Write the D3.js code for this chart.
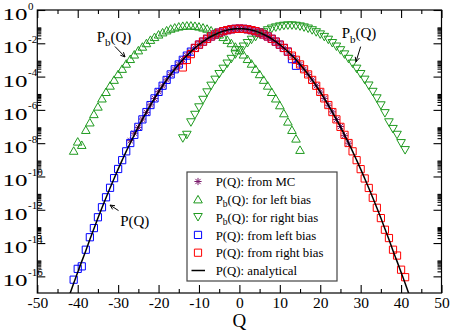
<!DOCTYPE html>
<html>
<head>
<meta charset="utf-8">
<script src="https://cdn.jsdelivr.net/npm/d3@7"></script>
<style>
body{margin:0;background:#fff;}
</style>
</head>
<body>
<script>
var w=450;
var h=331;
var serif = "'Liberation Serif', 'DejaVu Serif', 'Times New Roman', serif";

// log10 P(Q)
var qLine = d3.range(-42, 43);
var logLine = [-17.10,-16.42,-15.75,-15.10,-14.46,-13.79,-13.14,-12.50,-11.88,-11.28,
  -10.69,-10.12,-9.56,-9.02,-8.49,-7.99,-7.50,-7.02,-6.57,-6.13,
  -5.71,-5.31,-4.92,-4.55,-4.20,-3.87,-3.56,-3.27,-2.99,-2.74,
  -2.50,-2.28,-2.08,-1.90,-1.73,-1.59,-1.47,-1.36,-1.27,-1.21,
  -1.16,-1.13,-1.12,-1.13,-1.16,-1.21,-1.27,-1.36,-1.47,-1.59,
  -1.73,-1.90,-2.08,-2.28,-2.50,-2.74,-2.99,-3.27,-3.56,-3.87,
  -4.20,-4.55,-4.92,-5.31,-5.71,-6.13,-6.57,-7.02,-7.50,-7.99,
  -8.49,-9.02,-9.56,-10.12,-10.69,-11.28,-11.88,-12.50,-13.14,-13.79,
  -14.46,-15.10,-15.75,-16.42,-17.10];

var qMC = d3.range(-27, 28);
var logMC = [-7.85,-7.40,-7.05,-6.55,-6.15,-5.70,-5.32,-4.91,-4.56,-4.20,
  -3.87,-3.56,-3.27,-2.99,-2.74,-2.50,-2.28,-2.08,-1.90,-1.73,
  -1.59,-1.47,-1.36,-1.27,-1.21,-1.16,-1.13,-1.12,-1.13,-1.16,
  -1.21,-1.27,-1.36,-1.47,-1.59,-1.73,-1.90,-2.08,-2.28,-2.50,
  -2.74,-2.99,-3.27,-3.56,-3.87,-4.20,-4.55,-4.93,-5.31,-5.72,
  -6.12,-6.58,-7.00,-7.55,-8.00];

var qLeftBias = d3.range(-41, 16);
var logLeftBias = [-8.45,-7.90,-8.10,-7.20,-6.75,-6.25,-5.80,-5.31,-4.92,-4.54,
  -4.19,-3.85,-3.53,-3.22,-2.94,-2.67,-2.42,-2.20,-1.99,-1.79,
  -1.62,-1.47,-1.34,-1.22,-1.12,-1.05,-0.99,-0.95,-0.93,-0.93,
  -0.95,-0.99,-1.05,-1.12,-1.22,-1.34,-1.47,-1.62,-1.79,-1.99,
  -2.20,-2.42,-2.67,-2.94,-3.22,-3.53,-3.85,-4.19,-4.54,-4.92,
  -5.31,-5.72,-6.20,-6.70,-7.20,-7.72,-8.40];

var qRightBias = d3.range(-14, 42);
var logRightBias = [-7.71,-7.50,-6.75,-6.30,-5.85,-5.40,-4.95,-4.55,-4.19,-3.85,
  -3.53,-3.22,-2.94,-2.67,-2.42,-2.20,-1.99,-1.79,-1.62,-1.47,
  -1.34,-1.22,-1.12,-1.05,-0.99,-0.95,-0.93,-0.93,-0.95,-0.99,
  -1.05,-1.12,-1.22,-1.34,-1.47,-1.62,-1.79,-1.99,-2.20,-2.42,
  -2.67,-2.94,-3.22,-3.53,-3.85,-4.19,-4.54,-4.92,-5.31,-5.73,
  -6.20,-6.75,-7.15,-7.50,-8.00,-8.42];

var qFromLeft = d3.range(-41, 15);
var logFromLeft = [-16.20,-15.55,-15.40,-14.40,-13.65,-13.10,-12.45,-11.85,-11.25,-10.68,
  -10.10,-9.55,-9.02,-8.49,-7.99,-7.50,-7.02,-6.57,-6.13,-5.71,
  -5.31,-4.92,-4.55,-4.20,-3.87,-3.56,-3.27,-2.99,-2.74,-2.50,
  -2.28,-2.08,-1.90,-1.73,-1.59,-1.47,-1.36,-1.27,-1.21,-1.16,
  -1.13,-1.12,-1.13,-1.16,-1.21,-1.27,-1.36,-1.47,-1.59,-1.73,
  -1.90,-2.08,-2.28,-2.50,-2.95,-3.35];

var qFromRight = d3.range(-14, 42);
var logFromRight = [-3.45,-3.00,-2.65,-2.28,-2.08,-1.90,-1.73,-1.59,-1.47,-1.36,
  -1.27,-1.21,-1.16,-1.13,-1.12,-1.13,-1.16,-1.21,-1.27,-1.36,
  -1.47,-1.59,-1.73,-1.90,-2.08,-2.28,-2.50,-2.74,-2.99,-3.27,
  -3.56,-3.87,-4.20,-4.55,-4.92,-5.31,-5.71,-6.13,-6.57,-7.02,
  -7.50,-7.99,-8.49,-9.02,-9.56,-10.12,-10.69,-11.28,-11.88,-12.50,
  -13.20,-13.70,-14.40,-14.75,-15.60,-16.05];

var xMajor = [-50,-40,-30,-20,-10,0,10,20,30,40,50];
var xMinor = [-45,-35,-25,-15,-5,5,15,25,35,45];
var yExp = [0,-2,-4,-6,-8,-10,-12,-14,-16];

var legendRows = [
  {sym:"star", pre:"P", sub:"", post:"(Q): from MC"},
  {sym:"up", pre:"P", sub:"b", post:"(Q): for left bias"},
  {sym:"down", pre:"P", sub:"b", post:"(Q): for right bias"},
  {sym:"blue", pre:"P", sub:"", post:"(Q): from left bias"},
  {sym:"red", pre:"P", sub:"", post:"(Q): from right bias"},
  {sym:"line", pre:"P", sub:"", post:"(Q): analytical"}
];

var green = "#1f9a1f";
var purple = "#7a1a6c";

var x = d3.scaleLinear().domain([-50,50]).range([37.3,441.5]);
var y = d3.scaleLog().domain([1e-17,1]).range([293,10]);

var svg=d3.select("body")
            .append("svg")
            .attr("width",w)
            .attr("height",h);

svg.append("clipPath").attr("id","plotclip")
    .append("rect")
    .attr("x",x(-50)).attr("y",y(1))
    .attr("width",x(50)-x(-50)).attr("height",y(1e-17)-y(1));

function pts(qs, logs){
    return qs.map(function(q,i){ return [q, Math.pow(10, logs[i])]; });
}

var symPath = {
    up: "M0,-3.9L4.3,3.6L-4.3,3.6Z",
    down: "M0,3.9L4.3,-3.6L-4.3,-3.6Z",
    square: "M-3.6,-3.6H3.6V3.6H-3.6Z",
    star: "M-3.6,0H3.6M0,-3.6V3.6M-2.6,-2.6L2.6,2.6M-2.6,2.6L2.6,-2.6"
};

// ticks
var ax = svg.append("g");

ax.append("g").attr("transform","translate(0,"+y(1e-17)+")")
    .call(d3.axisBottom(x).tickValues(xMajor).tickSize(-8).tickPadding(4)
        .tickFormat(function(d){ return String(d); }));
ax.append("g").attr("transform","translate(0,"+y(1e-17)+")")
    .call(d3.axisBottom(x).tickValues(xMinor).tickSize(-4).tickFormat(""));
ax.append("g").attr("transform","translate(0,"+y(1)+")")
    .call(d3.axisTop(x).tickValues(xMajor).tickSize(-8).tickFormat(""));
ax.append("g").attr("transform","translate(0,"+y(1)+")")
    .call(d3.axisTop(x).tickValues(xMinor).tickSize(-4).tickFormat(""));

var yMajor = yExp.map(function(e){ return Math.pow(10,e); });
var yMinor = [];
yExp.forEach(function(e){
    if (e >= 0) return;
    for (var k=2;k<=9;k++) yMinor.push(k*Math.pow(10,e));
});

ax.append("g").attr("transform","translate("+x(-50)+",0)")
    .call(d3.axisLeft(y).tickValues(yMajor).tickSize(-8).tickFormat(""));
ax.append("g").attr("transform","translate("+x(-50)+",0)")
    .call(d3.axisLeft(y).tickValues(yMinor).tickSize(-4).tickFormat(""));
ax.append("g").attr("transform","translate("+x(50)+",0)")
    .call(d3.axisRight(y).tickValues(yMajor).tickSize(-8).tickFormat(""));
ax.append("g").attr("transform","translate("+x(50)+",0)")
    .call(d3.axisRight(y).tickValues(yMinor).tickSize(-4).tickFormat(""));

ax.selectAll(".domain").remove();
ax.selectAll(".tick line").attr("stroke","#000").attr("stroke-width",1.1);
ax.selectAll(".tick text")
    .attr("fill","#000")
    .style("font-family",serif)
    .style("font-size","15.5px");

// y labels 10^e
var ylab = svg.append("g").selectAll("g").data(yExp).enter().append("g");
ylab.append("text")
    .attr("x",2.5)
    .attr("y",function(d){ return y(Math.pow(10,d))+10; })
    .style("font-family",serif)
    .style("font-size","16px")
    .attr("textLength",25)
    .attr("lengthAdjust","spacingAndGlyphs")
    .text("10");
ylab.append("text")
    .attr("x",28)
    .attr("y",function(d){ return y(Math.pow(10,d))-0.5; })
    .style("font-family",serif)
    .style("font-size","11px")
    .text(function(d){ return String(d); });

// axis title
svg.append("text")
    .attr("x",x(0)).attr("y",327)
    .attr("text-anchor","middle")
    .style("font-family",serif)
    .style("font-size","19px")
    .text("Q");

// data
var plot = svg.append("g").attr("clip-path","url(#plotclip)");

function drawSymbols(data, path, color){
    plot.append("g").selectAll("path")
        .data(data)
        .enter()
        .append("path")
        .attr("transform",function(d){ return "translate("+x(d[0])+","+y(d[1])+")"; })
        .attr("d",path)
        .attr("fill","none")
        .attr("stroke",color)
        .attr("stroke-width",1);
}

drawSymbols(pts(qMC, logMC), symPath.star, purple);
drawSymbols(pts(qLeftBias, logLeftBias), symPath.up, green);
drawSymbols(pts(qRightBias, logRightBias), symPath.down, green);
drawSymbols(pts(qFromLeft, logFromLeft), symPath.square, "#0000ff");
drawSymbols(pts(qFromRight, logFromRight), symPath.square, "#ff0000");

var line = d3.line()
    .x(function(d){ return x(d[0]); })
    .y(function(d){ return y(d[1]); })
    .curve(d3.curveMonotoneX);

plot.append("path")
    .datum(pts(qLine, logLine))
    .attr("d",line)
    .attr("fill","none")
    .attr("stroke","#000")
    .attr("stroke-width",1.5);

// frame
svg.append("rect")
    .attr("x",x(-50)).attr("y",y(1))
    .attr("width",x(50)-x(-50)).attr("height",y(1e-17)-y(1))
    .attr("fill","none").attr("stroke","#000").attr("stroke-width",1.2);

// annotations, placed in data units (Q, log10 P)
var notes = [
    {q:-35.3, lp:-1.9, sub:"b", from:[-30.8,-2.19], to:[-28.3,-2.82]},
    {q:25.3, lp:-1.7, sub:"b", from:[30.0,-2.2], to:[28.85,-3.11]},
    {q:-29.5, lp:-12.95, sub:"", from:[-29.9,-12.05], to:[-32.0,-11.72]}
];

notes.forEach(function(n){
    var t = svg.append("text")
        .attr("x",x(n.q)).attr("y",y(Math.pow(10,n.lp)))
        .style("font-family",serif)
        .style("font-size","15px");
    t.append("tspan").text("P");
    if (n.sub) {
        t.append("tspan").style("font-size","11px").attr("dy",4.5).text(n.sub);
        t.append("tspan").attr("dy",-4.5).text("(Q)");
    } else {
        t.append("tspan").text("(Q)");
    }
    var x1=x(n.from[0]), y1=y(Math.pow(10,n.from[1]));
    var x2=x(n.to[0]), y2=y(Math.pow(10,n.to[1]));
    var a=Math.atan2(y2-y1,x2-x1), hl=5, hw=0.45;
    svg.append("path")
        .attr("d","M"+x1+","+y1+"L"+x2+","+y2+
            "M"+(x2-hl*Math.cos(a-hw))+","+(y2-hl*Math.sin(a-hw))+"L"+x2+","+y2+
            "L"+(x2-hl*Math.cos(a+hw))+","+(y2-hl*Math.sin(a+hw)))
        .attr("fill","none").attr("stroke","#000").attr("stroke-width",1);
});

// legend
var lg = svg.append("g");
lg.append("rect")
    .attr("x",187).attr("y",172).attr("width",150).attr("height",109)
    .attr("fill","#fff").attr("stroke","#444").attr("stroke-width",1.2);

var rowY = function(i){ return 181.5 + i*17.8; };

legendRows.forEach(function(r,i){
    var cy = rowY(i), cx = 198;
    if (r.sym=="line") {
        lg.append("line").attr("x1",191.5).attr("x2",205).attr("y1",cy).attr("y2",cy)
            .attr("stroke","#000").attr("stroke-width",1.5);
    } else {
        var p = r.sym=="star" ? symPath.star : r.sym=="up" ? symPath.up :
                r.sym=="down" ? symPath.down : symPath.square;
        var c = r.sym=="star" ? purple : (r.sym=="up"||r.sym=="down") ? green :
                r.sym=="blue" ? "#0000ff" : "#ff0000";
        lg.append("path").attr("transform","translate("+cx+","+cy+")")
            .attr("d",p).attr("fill","none").attr("stroke",c).attr("stroke-width",1);
    }
    var t = lg.append("text").attr("x",215.7).attr("y",cy+4.6)
        .style("font-family",serif).style("font-size","12.8px");
    t.append("tspan").text(r.pre);
    if (r.sub) {
        t.append("tspan").style("font-size","9.5px").attr("dy",3.5).text(r.sub);
        t.append("tspan").attr("dy",-3.5).text(r.post);
    } else {
        t.append("tspan").text(r.post);
    }
});
</script>
</body>
</html>
